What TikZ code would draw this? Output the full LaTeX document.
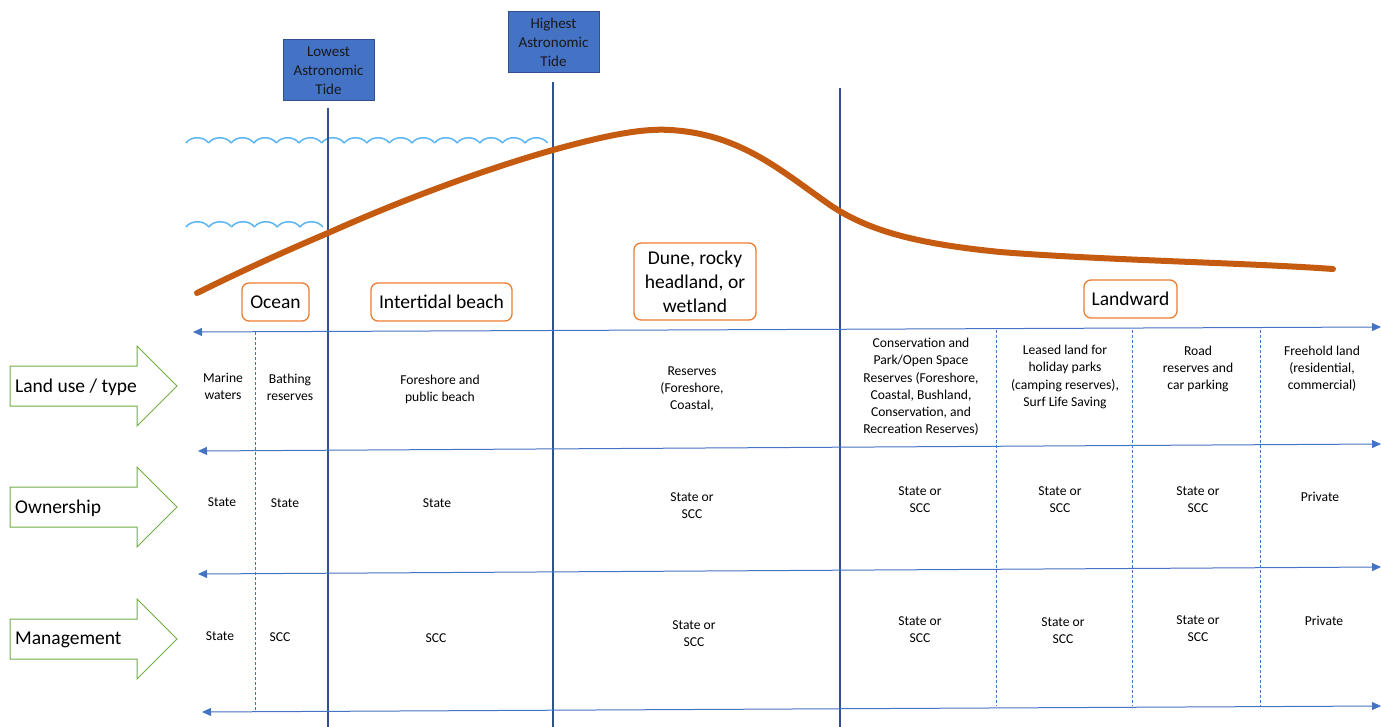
\documentclass[tikz,border=0pt]{standalone}
\usepackage{fontspec}
\setmainfont{Carlito}
\usetikzlibrary{arrows.meta}
\definecolor{lineblue}{HTML}{4472C4}
\definecolor{darkblue}{HTML}{2F528F}
\definecolor{waveblue}{HTML}{5BB5F2}
\definecolor{rust}{HTML}{C55A11}
\definecolor{orangeb}{HTML}{ED7D31}
\definecolor{greenb}{HTML}{70AD47}
\tikzset{
  tidebox/.style={draw=darkblue,fill=lineblue,line width=1pt,minimum width=91pt,minimum height=61pt,inner sep=0pt,align=center,font=\fontsize{15}{19}\selectfont,text=black!90},
  zonebox/.style={draw=orangeb,fill=white,rounded corners=7pt,line width=1.3pt,inner sep=5pt,align=center,font=\fontsize{19.5}{24}\selectfont},
  cell/.style={align=center,inner sep=0pt,font=\fontsize{13.6}{17.2}\selectfont},
  rowarrow/.style={draw=greenb,fill=white,line width=1pt,line join=miter},
  rowlabel/.style={anchor=west,inner sep=0pt,font=\fontsize{19.5}{22}\selectfont},
  tideline/.style={draw=darkblue,line width=1.3pt},
  sepline/.style={draw=lineblue,line width=0.8pt,dash pattern=on 3pt off 2pt},
  axis/.style={draw=lineblue,line width=1pt,{Triangle[length=9pt,width=8pt]}-{Triangle[length=9pt,width=8pt]}},
  wave/.style={draw=waveblue,line width=1.5pt},
  profile/.style={draw=rust,line width=6pt,line cap=round}
}
\newcommand{\rowarrowat}[2]{%
  \draw[rowarrow] (10,#1-20) -- (137,#1-20) -- (137,#1-40) -- (177,#1) -- (137,#1+40) -- (137,#1+20) -- (10,#1+20) -- cycle;
  \coordinate (#2) at (93.5,#1);}
\begin{document}
\begin{tikzpicture}[x=1pt,y=-1pt]
\useasboundingbox (0,0) rectangle (1381,727);
% waves
\foreach \i in {0,...,15}{
  \draw[wave] ({186+\i*22.6},143) .. controls ({186+\i*22.6+5},136) and ({186+\i*22.6+17.6},136) .. ({186+\i*22.6+22.6},143);
}
\foreach \i in {0,...,5}{
  \draw[wave] ({186+\i*22.8},227) .. controls ({186+\i*22.8+5},220) and ({186+\i*22.8+17.8},220) .. ({186+\i*22.8+22.8},227);
}
% tide lines
\coordinate (lat-top) at (328,108); \coordinate (lat-bot) at (328,727);
\coordinate (hat-top) at (553,82);  \coordinate (hat-bot) at (553,727);
\coordinate (dun-top) at (840,88);  \coordinate (dun-bot) at (840,727);
\draw[tideline] (lat-top) -- (lat-bot);
\draw[tideline] (hat-top) -- (hat-bot);
\draw[tideline] (dun-top) -- (dun-bot);
% dashed separators
\coordinate (s1a) at (255,332); \coordinate (s1b) at (255,712);
\coordinate (s2a) at (996,330); \coordinate (s2b) at (996,706);
\coordinate (s3a) at (1132,330); \coordinate (s3b) at (1132,706);
\coordinate (s4a) at (1260,330); \coordinate (s4b) at (1260,706);
\draw[sepline] (s1a) -- (s1b);
\draw[sepline] (s2a) -- (s2b);
\draw[sepline] (s3a) -- (s3b);
\draw[sepline] (s4a) -- (s4b);
% horizontal axes
\coordinate (a1l) at (193,332); \coordinate (a1r) at (1381,327);
\coordinate (a2l) at (198,451); \coordinate (a2r) at (1381,444);
\coordinate (a3l) at (198,574); \coordinate (a3r) at (1381,567);
\coordinate (a4l) at (202,712); \coordinate (a4r) at (1381,706);
\draw[axis] (a1l) -- (a1r);
\draw[axis] (a2l) -- (a2r);
\draw[axis] (a3l) -- (a3r);
\draw[axis] (a4l) -- (a4r);
% profile
\draw[profile] (197,293) .. controls (260,262) and (300,245) .. (328,233)
  .. controls (420,192) and (500,165) .. (553,150)
  .. controls (600,137) and (640,128) .. (670,130)
  .. controls (740,134) and (780,170) .. (830,205)
  .. controls (870,232) and (920,244) .. (1000,252)
  .. controls (1100,260) and (1250,263) .. (1333,269);
% tide boxes
\node[tidebox] (lat) at (328.5,70.5) {Lowest\\Astronomic\\Tide};
\node[tidebox] (hat) at (553.5,42.5) {Highest\\Astronomic\\Tide};
% zone boxes
\node[zonebox,minimum width=67pt,minimum height=38pt] (ocean) at (275.5,302) {Ocean};
\node[zonebox,minimum width=141pt,minimum height=38pt] (intertidal) at (441.5,302) {Intertidal beach};
\node[zonebox,minimum width=122pt,minimum height=77pt] (dune) at (695,281.5) {Dune, rocky\\headland, or\\wetland};
\node[zonebox,minimum width=93pt,minimum height=38pt] (landward) at (1130.5,299) {Landward};
% row arrows
\rowarrowat{386}{arr1}
\rowarrowat{507}{arr2}
\rowarrowat{639}{arr3}
\node[rowlabel] (lab1) at (15,387) {Land use / type};
\node[rowlabel] (lab2) at (15,508) {Ownership};
\node[rowlabel] (lab3) at (15,640) {Management};
% row 1
\node[cell] (u1) at (223,386) {Marine\\waters};
\node[cell] (u2) at (290,387) {Bathing\\reserves};
\node[cell] (u3) at (440,389) {Foreshore and\\public beach};
\node[cell] (u4) at (692,389) {Reserves\\(Foreshore,\\Coastal,};
\node[cell] (u5) at (921,387) {Conservation and\\Park/Open Space\\Reserves (Foreshore,\\Coastal, Bushland,\\Conservation, and\\Recreation Reserves)};
\node[cell] (u6) at (1065,377) {Leased land for\\holiday parks\\(camping reserves),\\Surf Life Saving};
\node[cell] (u7) at (1198,369) {Road\\reserves and\\car parking};
\node[cell] (u8) at (1322,369) {Freehold land\\(residential,\\commercial)};
% row 2
\node[cell] (o1) at (222,502) {State};
\node[cell] (o2) at (285,503) {State};
\node[cell] (o3) at (437,503) {State};
\node[cell] (o4) at (692,506) {State or\\SCC};
\node[cell] (o5) at (920,500) {State or\\SCC};
\node[cell] (o6) at (1060,500) {State or\\SCC};
\node[cell] (o7) at (1198,500) {State or\\SCC};
\node[cell] (o8) at (1320,497) {Private};
% row 3
\node[cell] (m1) at (220,636) {State};
\node[cell] (m2) at (280,637) {SCC};
\node[cell] (m3) at (436,638) {SCC};
\node[cell] (m4) at (694,634) {State or\\SCC};
\node[cell] (m5) at (920,630) {State or\\SCC};
\node[cell] (m6) at (1063,631) {State or\\SCC};
\node[cell] (m7) at (1198,629) {State or\\SCC};
\node[cell] (m8) at (1324,621) {Private};
\end{tikzpicture}
\end{document}
